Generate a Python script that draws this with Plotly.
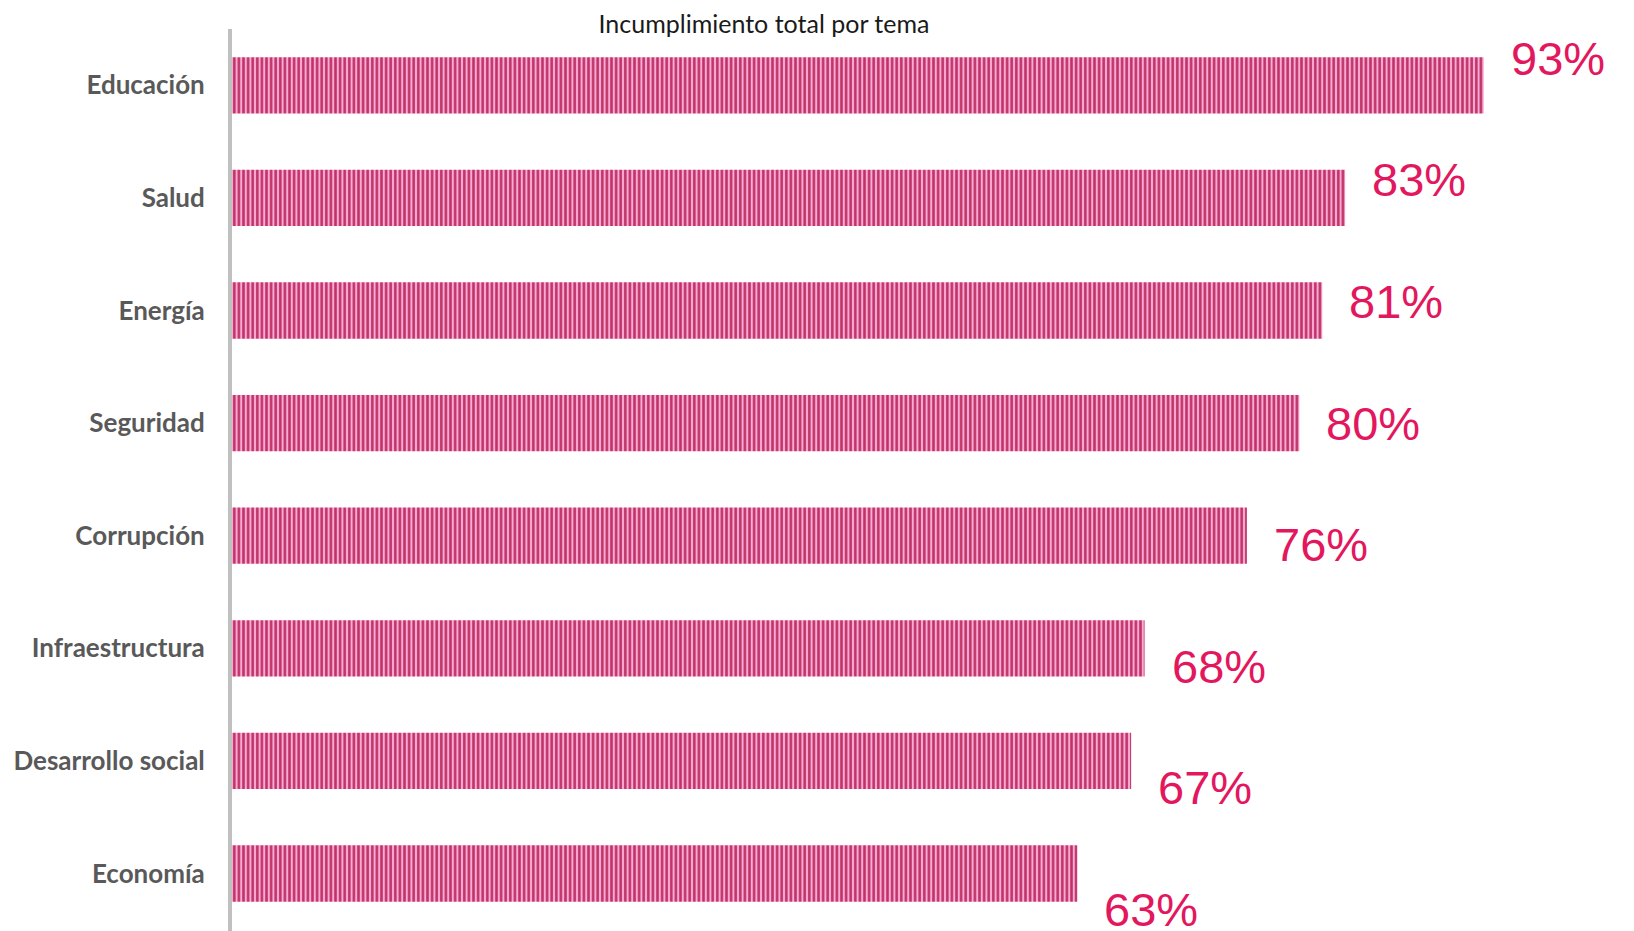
import plotly.graph_objects as go

categories = ["Educación", "Salud", "Energía", "Seguridad", "Corrupción",
              "Infraestructura", "Desarrollo social", "Economía"]
values = [93.0, 82.7, 81.0, 79.3, 75.4, 67.8, 66.8, 62.8]
labels = ["93%", "83%", "81%", "80%", "76%", "68%", "67%", "63%"]

W, H = 1634, 931
fig = go.Figure()
fig.add_trace(go.Bar(
    x=values, y=categories, orientation="h", width=0.5,
    marker=dict(color="#FBAAD5", line=dict(width=0),
                pattern=dict(shape="|", fgcolor="#BF3366", bgcolor="#FBAAD5",
                             size=4.6, solidity=0.55, fillmode="replace")),
    hoverinfo="skip",
))

for i, (v, c, t) in enumerate(zip(values, categories, labels)):
    fig.add_annotation(x=v, y=c, text=t, showarrow=False, xanchor="left",
                       yanchor="middle", xshift=25, yshift=-(i - 3) * 9.0,
                       font=dict(family="Liberation Sans, Arial", size=47, color="#E3175E"))

fig.update_layout(
    width=W, height=H,
    margin=dict(l=224, r=64, t=21, b=3),
    paper_bgcolor="white", plot_bgcolor="white",
    showlegend=False,
    title=dict(text="Incumplimiento total por tema", x=756 / W, xref="container",
               xanchor="center", y=1 - 16 / H, yref="container", yanchor="middle",
               font=dict(family="Lato", size=25, color="#1a1a1a")),
    xaxis=dict(range=[0, 100], visible=False, fixedrange=True),
    yaxis=dict(categoryorder="array", categoryarray=categories, range=[7.555, -0.5],
               showgrid=False, zeroline=False, showline=True, linecolor="#C0C0C0",
               linewidth=4, ticks="", ticklabelstandoff=18,
               tickfont=dict(family="Lato", size=26, color="#595959", weight="bold")),
)
fig.write_html("out.html")
